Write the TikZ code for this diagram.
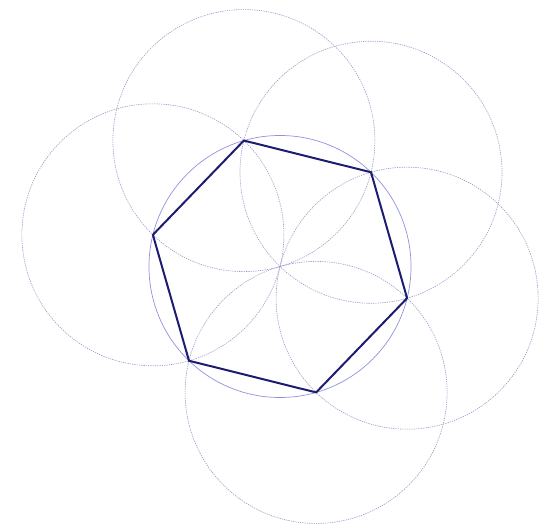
\documentclass[tikz,border=0pt]{standalone}
\usetikzlibrary{calc}
\definecolor{hexcol}{HTML}{1C1C70}
\definecolor{circcol}{HTML}{9090E0}
\definecolor{dotcol}{HTML}{9A9AC8}
\tikzset{
  hexline/.style={draw=hexcol, line width=2pt, line join=miter},
  outercirc/.style={draw=circcol, line width=0.7pt},
  dotcirc/.style={draw=dotcol, line width=0.6pt, dash pattern=on 1.3pt off 1pt},
}
\begin{document}
\begin{tikzpicture}[x=1pt,y=-1pt]
\useasboundingbox (0,0) rectangle (552,529);
\coordinate (O) at (280,266.5);
\def\R{131}
\foreach \a/\n in {106/A,46/B,-14/C,-74/D,-134/E,166/F}{
  \coordinate (\n) at ($(O)+(\a:\R pt)$);
}
\foreach \n in {A,B,C,D,F}{
  \draw[dotcirc] (\n) circle[radius=\R];
}
\draw[outercirc] (O) circle[radius=\R];
\draw[hexline] (A) -- (B) -- (C) -- (D) -- (E) -- (F) -- cycle;
\end{tikzpicture}
\end{document}
